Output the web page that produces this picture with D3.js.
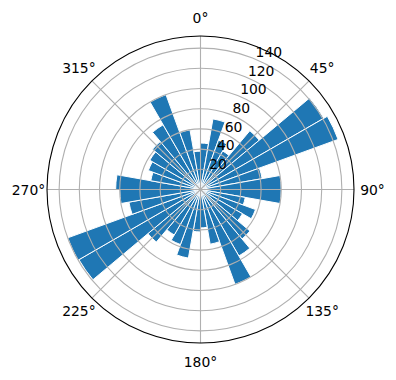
<!DOCTYPE html>
<html>
<head>
<meta charset="utf-8">
<script src="https://cdn.jsdelivr.net/npm/d3@7"></script>
<style>
  body { margin: 0; background: #fff; }
  svg { display: block; font-family: 'DejaVu Sans', sans-serif; }
</style>
</head>
<body>
<div id="chart"></div>
<script>
// direction bins, 10 degrees each, clockwise from north
const binStarts = d3.range(0, 360, 10);
const counts = [
  46, 71, 52, 44, 76, 141, 145, 62, 80,
  80, 45, 58, 48, 64, 76, 100, 55, 38,
  42, 69, 58, 52, 68, 139, 140, 72, 80,
  84, 50, 55, 58, 62, 74, 100, 60, 38
];
const radialTicks = [20, 40, 60, 80, 100, 120, 140];
const angleTicks = [0, 45, 90, 135, 180, 225, 270, 315];

const width = 396, height = 380;
const cx = 200.5, cy = 189.5;
const outerR = 153.5;
const rMax = 152;

const svg = d3.select('#chart').append('svg')
  .attr('width', width)
  .attr('height', height);

const g = svg.append('g').attr('transform', `translate(${cx},${cy})`);

const r = d3.scaleLinear().domain([0, rMax]).range([0, outerR]);
const toRad = d => d * Math.PI / 180;

const arc = d3.arc()
  .innerRadius(0)
  .startAngle(d => toRad(d.start))
  .endAngle(d => toRad(d.start + 10))
  .outerRadius(d => r(d.value));

const bins = binStarts.map((s, i) => ({ start: s, value: counts[i] }));

g.selectAll('.bar')
  .data(bins)
  .join('path')
  .attr('class', 'bar')
  .attr('d', arc)
  .attr('fill', '#1f77b4')
  .attr('stroke', '#fff')
  .attr('stroke-width', 1);

// grid
const gridColor = '#b0b0b0';
g.selectAll('.ring')
  .data(radialTicks)
  .join('circle')
  .attr('class', 'ring')
  .attr('r', d => r(d))
  .attr('fill', 'none')
  .attr('stroke', gridColor)
  .attr('stroke-width', 1.1);

g.selectAll('.spoke')
  .data(angleTicks)
  .join('line')
  .attr('class', 'spoke')
  .attr('x1', 0).attr('y1', 0)
  .attr('x2', d => outerR * Math.sin(toRad(d)))
  .attr('y2', d => -outerR * Math.cos(toRad(d)))
  .attr('stroke', gridColor)
  .attr('stroke-width', 1.1);

g.append('circle')
  .attr('r', outerR)
  .attr('fill', 'none')
  .attr('stroke', '#000')
  .attr('stroke-width', 1.1);

// angle labels
const labelR = 172;
g.selectAll('.alabel')
  .data(angleTicks)
  .join('text')
  .attr('class', 'alabel')
  .attr('x', d => labelR * Math.sin(toRad(d)))
  .attr('y', d => -labelR * Math.cos(toRad(d)))
  .attr('text-anchor', 'middle')
  .attr('dominant-baseline', 'central')
  .attr('font-size', '13.9px')
  .attr('fill', '#000')
  .text(d => d + '°');

// radial labels at 22.5 degrees
const rAng = toRad(22.5);
g.selectAll('.rlabel')
  .data(radialTicks)
  .join('text')
  .attr('class', 'rlabel')
  .attr('x', d => r(d) * Math.sin(rAng) + 1)
  .attr('y', d => -r(d) * Math.cos(rAng) - 2)
  .attr('text-anchor', 'start')
  .attr('font-size', '13.9px')
  .attr('fill', '#000')
  .text(d => d);
</script>
</body>
</html>
